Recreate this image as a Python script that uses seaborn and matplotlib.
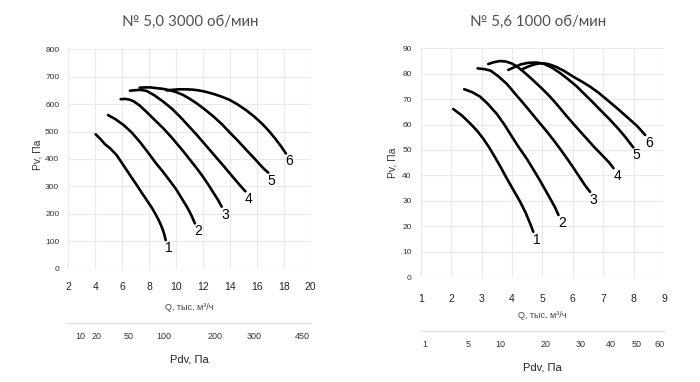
import numpy as np
import pandas as pd
import matplotlib
matplotlib.use("Agg")
import matplotlib.pyplot as plt
import seaborn as sns

# ---------------- data ----------------
left_title = "№ 5,0 3000 об/мин"
right_title = "№ 5,6 1000 об/мин"
curve_labels = ["1", "2", "3", "4", "5", "6"]

# left chart (fan 5,0, 3000 rpm): Q thousand m3/h, Pv Pa
left_q1 = [4.03, 4.4, 4.72, 5.1, 5.59, 6.08, 6.58, 7.08, 7.45, 7.82, 8.15, 8.44, 8.7, 8.93, 9.1, 9.23]
left_p1 = [490, 472, 454, 439, 414, 378, 341, 305, 277, 250, 226, 202, 178, 153, 130, 104]
left_q2 = [4.95, 5.5, 6.1, 6.7, 7.3, 7.9, 8.5, 9.0, 9.5, 10.0, 10.4, 10.75, 11.0, 11.2, 11.4]
left_p2 = [560, 545, 524, 497, 463, 425, 385, 355, 323, 290, 258, 230, 208, 188, 165]
left_q3 = [5.89, 6.2, 6.5, 6.83, 7.3, 7.8, 8.4, 9.05, 9.7, 10.3, 10.7, 11.1, 11.6, 12.0, 12.4, 12.76, 13.1, 13.39]
left_p3 = [618, 619, 617, 611, 595, 572, 543, 512, 477, 442, 418, 393, 362, 335, 306, 278, 252, 226]
left_q4 = [6.58, 7.0, 7.4, 7.82, 8.4, 9.05, 9.7, 10.3, 10.9, 11.5, 12.1, 12.8, 13.4, 14.0, 14.5, 14.85, 15.15]
left_p4 = [649, 651, 652, 648, 632, 609, 583, 554, 522, 490, 456, 416, 382, 347, 318, 298, 282]
left_q5 = [7.3, 7.7, 8.1, 8.6, 9.0, 9.5, 10.0, 10.5, 11.0, 11.5, 12.1, 12.8, 13.4, 14.0, 14.6, 15.2, 15.7, 16.2, 16.55, 16.85]
left_p5 = [660, 661, 661, 658, 656, 651, 644, 634, 620, 604, 582, 554, 527, 496, 466, 434, 408, 381, 363, 350]
left_q6 = [9.3, 9.7, 10.2, 10.7, 11.2, 11.7, 12.2, 12.8, 13.4, 14.0, 14.6, 15.2, 15.8, 16.4, 16.9, 17.4, 17.8, 18.16]
left_p6 = [650, 652, 654, 654, 653, 650, 645, 637, 627, 615, 598, 578, 555, 528, 502, 472, 446, 420]

# right chart (fan 5,6, 1000 rpm)
right_q1 = [2.07, 2.35, 2.62, 2.85, 3.06, 3.25, 3.45, 3.65, 3.83, 4.05, 4.27, 4.45, 4.6, 4.7]
right_p1 = [66.1, 63.6, 60.5, 57.6, 54.4, 51, 47, 42.8, 38.8, 34.2, 29.6, 25.3, 21, 17.8]
right_q2 = [2.43, 2.7, 2.95, 3.2, 3.5, 3.75, 3.96, 4.2, 4.49, 4.72, 4.92, 5.1, 5.25, 5.4, 5.53]
right_p2 = [73.9, 72.7, 71, 68.2, 64.2, 60, 56, 51.5, 46.5, 42, 38, 34.2, 31, 27.8, 24.4]
right_q3 = [2.87, 3.1, 3.3, 3.55, 3.83, 4.1, 4.38, 4.65, 4.92, 5.15, 5.36, 5.58, 5.8, 6.02, 6.24, 6.42, 6.57]
right_p3 = [82.1, 81.8, 81.2, 79, 76, 72.2, 68.3, 64.4, 60.5, 57.2, 54, 50.5, 46.8, 43, 39, 35.8, 33.5]
right_q4 = [3.22, 3.4, 3.6, 3.8, 4.0, 4.16, 4.4, 4.7, 5.0, 5.25, 5.5, 5.8, 6.1, 6.4, 6.7, 7.0, 7.2, 7.34]
right_p4 = [83.8, 84.5, 85, 84.8, 84, 82.9, 80.6, 77.4, 74, 71, 67.6, 63.3, 59.2, 55.2, 51.2, 47.5, 45, 42.8]
right_q5 = [3.88, 4.1, 4.3, 4.54, 4.8, 5.03, 5.3, 5.58, 5.85, 6.13, 6.4, 6.68, 6.95, 7.23, 7.5, 7.72, 7.99]
right_p5 = [81.5, 82.7, 83.7, 84.3, 84.4, 84.0, 82.5, 80.3, 77.8, 75, 71.8, 68.5, 65.2, 61.8, 58.3, 55.2, 51]
right_q6 = [4.32, 4.55, 4.75, 4.92, 5.1, 5.25, 5.45, 5.7, 6.02, 6.3, 6.57, 6.85, 7.12, 7.45, 7.78, 8.1, 8.38]
right_p6 = [81.7, 82.9, 83.7, 84.1, 84, 83.6, 82.7, 81.2, 78.8, 76.9, 74.9, 72.5, 69.8, 66.5, 63, 59.6, 55.9]

left_xticks = [2, 4, 6, 8, 10, 12, 14, 16, 18, 20]
left_yticks = [0, 100, 200, 300, 400, 500, 600, 700, 800]
right_xticks = [1, 2, 3, 4, 5, 6, 7, 8, 9]
right_yticks = [0, 10, 20, 30, 40, 50, 60, 70, 80, 90]

left_pdv_labels = [10, 20, 50, 100, 200, 300, 450]
right_pdv_labels = [1, 5, 10, 20, 30, 40, 50, 60]

# dynamic pressure Pdv = rho/2 * v^2, v from Q and outlet diameter
rho = 1.2
left_diam = 0.5
right_diam = 0.56


def q_from_pdv(pdv, diam):
    area = np.pi * diam ** 2 / 4
    v = np.sqrt(2 * np.asarray(pdv, float) / rho)
    return v * area * 3600 / 1000


# ---------------- style ----------------
sns.set_theme(style="white")
plt.rcParams["font.family"] = ["Liberation Sans", "DejaVu Sans"]

W, H = 700, 382
fig = plt.figure(figsize=(7.0, 3.82), dpi=100)


def fx(px):
    return px / W


def fy(py):
    return 1 - py / H


GRID = "#e9e9e9"


def make_chart(rect, xlim, ylim, xticks, yticks, curves, title, title_xy,
               qlabel_y, pv_xy, sec_y, pdv_labels, diam, pdv_label_y,
               xtick_pad):
    ax = fig.add_axes(rect)
    for q, p in curves:
        df = pd.DataFrame({"Q": q, "P": p})
        sns.lineplot(data=df, x="Q", y="P", ax=ax, color="black",
                     linewidth=1.9, sort=False, estimator=None,
                     solid_capstyle="round", solid_joinstyle="round")
    for (q, p), lab in zip(curves, curve_labels):
        ax.annotate(lab, xy=(q[-1], p[-1]), xytext=(3.5, -8),
                    textcoords="offset pixels", ha="center", va="center",
                    fontsize=10, color="black")
    ax.set_xlim(*xlim)
    ax.set_ylim(*ylim)
    ax.set_xticks(xticks)
    ax.set_yticks(yticks)
    ax.grid(True, color=GRID, linewidth=0.8)
    for s in ax.spines.values():
        s.set_visible(False)
    ax.tick_params(axis="x", length=0, pad=xtick_pad, labelsize=7.5,
                   labelcolor="#222222")
    ax.tick_params(axis="y", length=0, pad=6.5, labelsize=6,
                   labelcolor="#333333")
    ax.set_xlabel("Q, тыс. м³/ч", fontsize=6.5, color="#444444")
    ax.xaxis.set_label_coords(rect[0] + rect[2] / 2, fy(qlabel_y),
                              transform=fig.transFigure)
    ax.xaxis.label.set_va("center")
    ax.set_ylabel("Pv, Па", fontsize=7.5, color="#333333")
    ax.yaxis.set_label_coords(fx(pv_xy[0]), fy(pv_xy[1]),
                              transform=fig.transFigure)
    ax.yaxis.label.set_va("center")
    fig.text(fx(title_xy[0]), fy(title_xy[1]), title, ha="center",
             va="center", fontsize=10.8, color="#505050",
             family=["Lato", "DejaVu Sans"], fontweight="normal")

    # secondary Pdv axis
    sec = fig.add_axes([rect[0], fy(sec_y), rect[2], 0.0001])
    sec.set_xlim(*xlim)
    sec.set_yticks([])
    sec.patch.set_alpha(0)
    for k, s in sec.spines.items():
        s.set_visible(k == "top")
    sec.spines["top"].set_color("#dddddd")
    sec.spines["top"].set_linewidth(0.9)
    sec.set_xticks(q_from_pdv(pdv_labels, diam))
    sec.set_xticklabels([str(v) for v in pdv_labels])
    sec.tick_params(axis="x", which="both", length=0,
                    labelsize=6.5, labelcolor="#333333", pad=6,
                    labeltop=False, labelbottom=True, top=False, bottom=False)
    sec.set_xlabel("Pdv, Па", fontsize=8, color="#222222")
    sec.xaxis.set_label_coords(rect[0] + rect[2] / 2, fy(pdv_label_y),
                               transform=fig.transFigure)
    sec.xaxis.label.set_va("center")
    return ax


left_rect = [fx(68.3), fy(268.6), fx(310.7 - 68.3), (268.6 - 49.3) / H]
right_rect = [fx(420.7), fy(277.0), fx(664.0 - 420.7), (277.0 - 48.3) / H]

make_chart(left_rect, (2, 20), (0, 800), left_xticks, left_yticks,
           [(left_q1, left_p1), (left_q2, left_p2), (left_q3, left_p3),
            (left_q4, left_p4), (left_q5, left_p5), (left_q6, left_p6)],
           left_title, (190.5, 22), 307.7, (37, 155), 323.3,
           left_pdv_labels, left_diam, 359, 10)

make_chart(right_rect, (1, 9), (0, 90), right_xticks, right_yticks,
           [(right_q1, right_p1), (right_q2, right_p2), (right_q3, right_p3),
            (right_q4, right_p4), (right_q5, right_p5), (right_q6, right_p6)],
           right_title, (538, 22), 316, (392, 163), 331.3,
           right_pdv_labels, right_diam, 368, 12)

fig.savefig("out.png", dpi=100)
